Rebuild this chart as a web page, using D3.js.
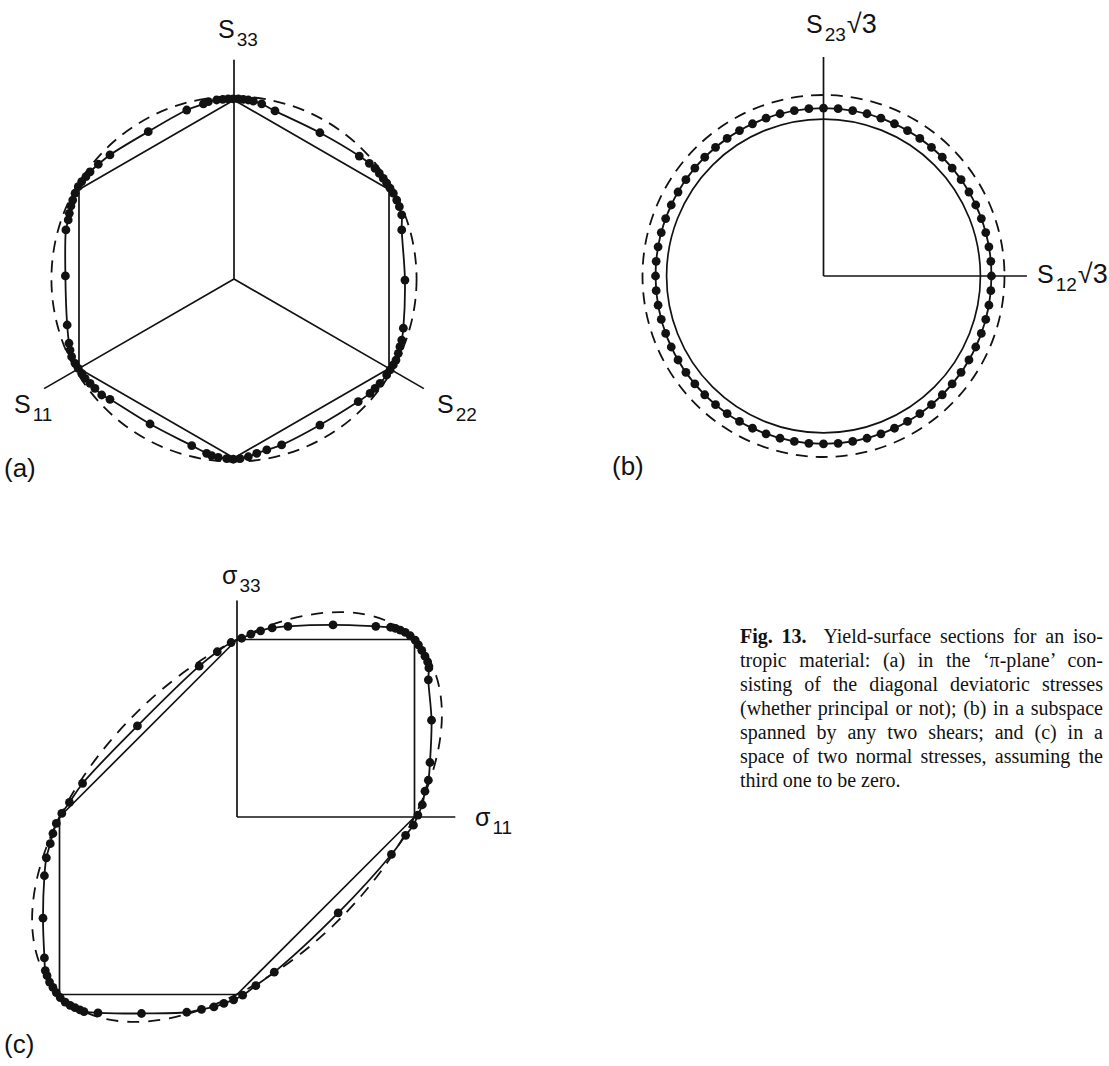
<!DOCTYPE html>
<html>
<head>
<meta charset="utf-8">
<script src="https://cdn.jsdelivr.net/npm/d3@7"></script>
<style>
  html, body { margin: 0; padding: 0; background: #fff; }
  svg { display: block; }
</style>
</head>
<body>
<svg id="fig" width="1109" height="1066"></svg>
<script>
// ---------- (a) pi-plane: diagonal deviatoric stresses ----------
const piTrescaVertices = [[0, 1], [0.866, 0.5], [0.866, -0.5], [0, -1], [-0.866, -0.5], [-0.866, 0.5]];
const piAxisSubscripts = ["33", "11", "22"];
const piAxisAngles = [90, 210, 330];
const piAxisLength = 1.225;
const piVonMisesRadius = 1.02;
const piModelPoints = [
  [0.955, -0.006], [0.937, 0.274], [0.937, 0.358], [0.924, 0.404], [0.909, 0.441], [0.890, 0.479],
  [0.872, 0.507], [0.853, 0.535], [0.834, 0.562], [0.812, 0.590], [0.788, 0.618], [0.756, 0.646],
  [0.700, 0.687], [0.480, 0.817], [0.229, 0.939], [0.155, 0.978], [0.108, 0.994], [0.080, 1.000],
  [0.052, 1.004], [0.024, 1.006], [-0.004, 1.006], [-0.032, 1.006], [-0.063, 1.004], [-0.097, 1.000],
  [-0.143, 0.991], [-0.171, 0.978], [-0.264, 0.944], [-0.479, 0.823], [-0.693, 0.693], [-0.758, 0.641],
  [-0.804, 0.599], [-0.827, 0.572], [-0.851, 0.544], [-0.870, 0.516], [-0.888, 0.479], [-0.901, 0.441],
  [-0.911, 0.408], [-0.920, 0.367], [-0.926, 0.330], [-0.939, 0.274], [-0.942, 0.017], [-0.932, -0.257],
  [-0.922, -0.359], [-0.916, -0.397], [-0.907, -0.434], [-0.888, -0.471], [-0.870, -0.499], [-0.851, -0.527],
  [-0.832, -0.555], [-0.804, -0.583], [-0.777, -0.611], [-0.739, -0.648], [-0.693, -0.672], [-0.469, -0.810],
  [-0.236, -0.931], [-0.153, -0.974], [-0.125, -0.987], [-0.088, -0.996], [-0.041, -1.004], [-0.004, -1.007],
  [0.034, -1.004], [0.080, -0.993], [0.127, -0.974], [0.183, -0.955], [0.266, -0.927], [0.480, -0.816],
  [0.694, -0.685], [0.760, -0.639], [0.788, -0.611], [0.816, -0.583], [0.853, -0.536], [0.872, -0.508],
  [0.890, -0.480], [0.905, -0.453], [0.918, -0.415], [0.927, -0.378], [0.937, -0.341], [0.946, -0.275]
];

// ---------- (b) subspace of two shears ----------
const shearTrescaRadius = 0.867;
const shearVonMisesRadius = 1.0;
const shearModelRadius = 0.928;
const shearModelAngles = [
  0, 5, 10, 15, 20, 25, 30, 35, 40, 45, 50, 55, 60, 65, 70, 75, 80, 85,
  90, 95, 100, 105, 110, 115, 120, 125, 130, 135, 140, 145, 150, 155, 160, 165, 170, 175,
  180, 185, 190, 195, 200, 205, 210, 215, 220, 225, 230, 235, 240, 245, 250, 255, 260, 265,
  270, 275, 280, 285, 290, 295, 300, 305, 310, 315, 320, 325, 330, 335, 340, 345, 350, 355
];
const shearAxisLengths = [1.124, 1.21];   // S12 (horizontal), S23 (vertical)

// ---------- (c) two normal stresses, third one zero ----------
const planeTrescaVertices = [[1, 0], [1, 1], [0, 1], [-1, 0], [-1, -1], [0, -1]];
const planeVonMisesSemiAxes = [1.414, 0.816];  // along and across the sigma11 = sigma33 diagonal
const planeAxisLengths = [1.23, 1.22];           // sigma11, sigma33
const planeModelPoints = [
  [1.019, 0.011], [1.044, 0.069], [1.059, 0.145], [1.078, 0.207], [1.087, 0.307], [1.096, 0.545],
  [1.078, 0.773], [1.081, 0.840], [1.074, 0.874], [1.059, 0.906], [1.041, 0.939], [1.022, 0.970],
  [1.004, 0.996], [0.976, 1.021], [0.948, 1.040], [0.920, 1.053], [0.893, 1.063], [0.865, 1.069],
  [0.782, 1.074], [0.541, 1.082], [0.287, 1.074], [0.198, 1.065], [0.133, 1.049], [0.078, 1.030],
  [0.026, 1.007], [-0.033, 0.983], [-0.111, 0.931], [-0.213, 0.850], [-0.561, 0.513], [-0.870, 0.189],
  [-0.944, 0.082], [-0.987, 0.020], [-1.018, -0.036], [-1.037, -0.093], [-1.052, -0.150], [-1.074, -0.230],
  [-1.085, -0.331], [-1.093, -0.570], [-1.085, -0.794], [-1.080, -0.865], [-1.070, -0.894], [-1.056, -0.930],
  [-1.037, -0.960], [-1.018, -0.989], [-0.996, -1.017], [-0.968, -1.043], [-0.940, -1.061], [-0.913, -1.074],
  [-0.885, -1.087], [-0.862, -1.097], [-0.783, -1.103], [-0.538, -1.107], [-0.283, -1.100], [-0.200, -1.084],
  [-0.130, -1.070], [-0.074, -1.050], [-0.019, -1.030], [0.032, -1.004], [0.106, -0.950], [0.210, -0.874],
  [0.570, -0.540], [0.870, -0.211], [0.950, -0.103], [0.994, -0.046]
];

// ---------- caption ----------
const captionHead = "Fig. 13.";
const captionLines = [
  "Yield-surface sections for an iso-",
  "tropic material: (a) in the \u2018\u03c0-plane\u2019 con-",
  "sisting of the diagonal deviatoric stresses",
  "(whether principal or not); (b) in a subspace",
  "spanned by any two shears; and (c) in a",
  "space of two normal stresses, assuming the",
  "third one to be zero."
];

// ================= drawing =================
const svg = d3.select("#fig");
const ink = "#121212";
const sansFont = "'Liberation Sans', Arial, Helvetica, sans-serif";
const serifFont = "'Liberation Serif', 'Times New Roman', serif";
const dotR = 4.4;

function strokeStyle(sel, w) {
  return sel.attr("fill", "none").attr("stroke", ink).attr("stroke-width", w)
    .attr("stroke-linejoin", "round").attr("stroke-linecap", "butt");
}

function axisLabel(x, y, main, sub, tail) {
  const t = svg.append("text")
    .attr("x", x).attr("y", y)
    .attr("font-family", sansFont).attr("font-size", 25).attr("fill", ink);
  t.append("tspan").text(main);
  t.append("tspan").attr("font-size", 19).attr("dx", 2).attr("dy", 8).text(sub);
  if (tail) t.append("tspan").attr("font-size", 27).attr("dx", 1).attr("dy", -8).text(tail);
}

function panelTag(x, y, s) {
  svg.append("text").attr("x", x).attr("y", y)
    .attr("font-family", sansFont).attr("font-size", 26).attr("fill", ink).text(s);
}

const smooth = d3.curveCatmullRomClosed.alpha(0.5);

// ---- (a)
{
  const cx = 234, cy = 279, R = 179;
  const x = d3.scaleLinear().domain([-1, 1]).range([cx - R, cx + R]);
  const y = d3.scaleLinear().domain([-1, 1]).range([cy + R, cy - R]);
  const g = svg.append("g");
  const line = d3.line().x(d => x(d[0])).y(d => y(d[1]));

  piAxisAngles.forEach(a => {
    const t = a * Math.PI / 180;
    strokeStyle(g.append("line"), 1.7)
      .attr("x1", x(0)).attr("y1", y(0))
      .attr("x2", x(piAxisLength * Math.cos(t))).attr("y2", y(piAxisLength * Math.sin(t)));
  });
  strokeStyle(g.append("path"), 1.7).attr("d", line.curve(d3.curveLinearClosed)(piTrescaVertices));
  strokeStyle(g.append("circle"), 1.8)
    .attr("cx", x(0)).attr("cy", y(0)).attr("r", x(piVonMisesRadius) - x(0))
    .attr("stroke-dasharray", "12 8");
  strokeStyle(g.append("path"), 1.8).attr("d", line.curve(smooth)(piModelPoints));
  g.selectAll("circle.pt").data(piModelPoints).join("circle").attr("class", "pt")
    .attr("cx", d => x(d[0])).attr("cy", d => y(d[1])).attr("r", dotR).attr("fill", ink);

  axisLabel(218, 38, "S", piAxisSubscripts[0]);
  axisLabel(14, 413, "S", piAxisSubscripts[1]);
  axisLabel(437, 413, "S", piAxisSubscripts[2]);
  panelTag(4, 477, "(a)");
}

// ---- (b)
{
  const cx = 823.5, cy = 276, R = 181;
  const x = d3.scaleLinear().domain([-1, 1]).range([cx - R, cx + R]);
  const y = d3.scaleLinear().domain([-1, 1]).range([cy + R, cy - R]);
  const g = svg.append("g");

  strokeStyle(g.append("line"), 1.7)
    .attr("x1", x(0)).attr("y1", y(0)).attr("x2", x(shearAxisLengths[0])).attr("y2", y(0));
  strokeStyle(g.append("line"), 1.7)
    .attr("x1", x(0)).attr("y1", y(0)).attr("x2", x(0)).attr("y2", y(shearAxisLengths[1]));
  strokeStyle(g.append("circle"), 1.7)
    .attr("cx", x(0)).attr("cy", y(0)).attr("r", x(shearTrescaRadius) - x(0));
  strokeStyle(g.append("circle"), 1.8)
    .attr("cx", x(0)).attr("cy", y(0)).attr("r", x(shearVonMisesRadius) - x(0))
    .attr("stroke-dasharray", "12 8");
  strokeStyle(g.append("circle"), 1.8)
    .attr("cx", x(0)).attr("cy", y(0)).attr("r", x(shearModelRadius) - x(0));
  const pts = shearModelAngles.map(a => [shearModelRadius * Math.cos(a * Math.PI / 180),
                                         shearModelRadius * Math.sin(a * Math.PI / 180)]);
  g.selectAll("circle.pt").data(pts).join("circle").attr("class", "pt")
    .attr("cx", d => x(d[0])).attr("cy", d => y(d[1])).attr("r", dotR).attr("fill", ink);

  axisLabel(806, 33, "S", "23", "\u221a3");
  axisLabel(1037, 283, "S", "12", "\u221a3");
  panelTag(612, 475, "(b)");
}

// ---- (c)
{
  const ox = 237, oy = 817, s = 177.5;
  const x = d3.scaleLinear().domain([0, 1]).range([ox, ox + s]);
  const y = d3.scaleLinear().domain([0, 1]).range([oy, oy - s]);
  const g = svg.append("g");
  const line = d3.line().x(d => x(d[0])).y(d => y(d[1]));

  strokeStyle(g.append("line"), 1.7)
    .attr("x1", x(0)).attr("y1", y(0)).attr("x2", x(planeAxisLengths[0])).attr("y2", y(0));
  strokeStyle(g.append("line"), 1.7)
    .attr("x1", x(0)).attr("y1", y(0)).attr("x2", x(0)).attr("y2", y(planeAxisLengths[1]));
  strokeStyle(g.append("path"), 1.7).attr("d", line.curve(d3.curveLinearClosed)(planeTrescaVertices));
  strokeStyle(g.append("ellipse"), 1.8)
    .attr("cx", 0).attr("cy", 0)
    .attr("rx", x(planeVonMisesSemiAxes[0]) - x(0)).attr("ry", x(planeVonMisesSemiAxes[1]) - x(0))
    .attr("transform", `translate(${x(0)},${y(0)}) rotate(-45)`)
    .attr("stroke-dasharray", "12 9");
  strokeStyle(g.append("path"), 1.8).attr("d", line.curve(smooth)(planeModelPoints));
  g.selectAll("circle.pt").data(planeModelPoints).join("circle").attr("class", "pt")
    .attr("cx", d => x(d[0])).attr("cy", d => y(d[1])).attr("r", dotR).attr("fill", ink);

  axisLabel(222, 584, "\u03c3", "33");
  axisLabel(475, 826, "\u03c3", "11");
  panelTag(4, 1053, "(c)");
}

// ---- caption, justified between two margins
{
  const left = 740, right = 1103, top = 643, step = 24, size = 20;
  captionLines.forEach((txt, i) => {
    const t = svg.append("text")
      .attr("x", left).attr("y", top + i * step)
      .attr("font-family", serifFont).attr("font-size", size).attr("fill", ink)
      .style("white-space", "pre");
    let full = txt;
    if (i === 0) {
      t.append("tspan").attr("font-weight", "bold").text(captionHead);
      t.append("tspan").text("  " + txt);
      full = captionHead + "  " + txt;
    } else {
      t.append("tspan").text(txt);
    }
    if (i < captionLines.length - 1) {
      const natural = t.node().getComputedTextLength();
      const gaps = (full.match(/ /g) || []).length;
      if (gaps > 0) t.attr("word-spacing", (right - left - natural) / gaps);
    }
  });
}
</script>
</body>
</html>
